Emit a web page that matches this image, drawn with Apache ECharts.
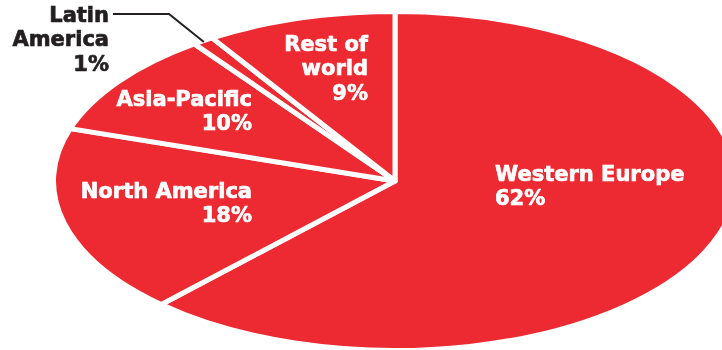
<!DOCTYPE html>
<html>
<head>
<meta charset="utf-8">
<script src="https://cdn.jsdelivr.net/npm/echarts@6/dist/echarts.min.js"></script>
<style>
  html, body { margin: 0; padding: 0; background: #ffffff; }
  #stage { position: relative; width: 722px; height: 350px; overflow: hidden; }
  #pie { position: absolute; left: 0; top: 0; height: 350px; }
  #pie, #pie div, #pie svg { overflow: visible !important; }
  #labels { position: absolute; left: 0; top: 0; width: 722px; height: 350px; }
  /* keep slice separators the same width after the horizontal stretch */
  #pie path { vector-effect: non-scaling-stroke; }
</style>
</head>
<body>
<div id="stage">
  <div id="pie"></div>
  <div id="labels"></div>
</div>
<script>
// Share of revenue by region, clockwise from twelve o'clock
const regions = ['Western Europe', 'North America', 'Asia-Pacific', 'Latin America', 'Rest of world'];
const shares = [62, 18, 10, 1, 9];
const labelNames = ['Western Europe', 'North America', 'Asia-Pacific', 'Latin\nAmerica', 'Rest of\nworld'];

const W = 722, H = 350;
const RED = '#ED2A31';
const GAP = 5;                   // white separator width (px)
const CX = 395, CY = 181;        // pie centre on the page
const RX = 339, RY = 167;        // visible half-axes of the elliptical pie
const SX = (RX + GAP / 2) / (RY + GAP / 2);   // horizontal stretch factor
const pieW = W / SX;

// ---- the pie, drawn as a circle and stretched into an ellipse ----
const pieDom = document.getElementById('pie');
pieDom.style.width = pieW + 'px';
const pie = echarts.init(pieDom, null, { renderer: 'svg', width: pieW, height: H });
pie.setOption({
  animation: false,
  series: [{
    type: 'pie',
    center: [CX / SX, CY],
    radius: RY + GAP / 2,
    startAngle: 90,
    clockwise: true,
    silent: true,
    label: { show: false },
    labelLine: { show: false },
    itemStyle: { color: RED, borderColor: '#ffffff', borderWidth: GAP },
    data: regions.map((name, i) => ({ name: name, value: shares[i] }))
  }]
});

function stretch() {
  const svg = pieDom.querySelector('svg');
  if (!svg) return;
  svg.setAttribute('viewBox', '0 0 ' + pieW + ' ' + H);
  svg.setAttribute('preserveAspectRatio', 'none');
  svg.setAttribute('width', W);
  svg.setAttribute('height', H);
  svg.style.width = W + 'px';
  svg.style.height = H + 'px';
  svg.style.overflow = 'visible';
  let el = svg.parentElement;
  while (el && el !== pieDom.parentElement) {
    el.style.overflow = 'visible';
    el = el.parentElement;
  }
}
pie.on('finished', stretch);
stretch();

// ---- labels ----
const total = shares.reduce((a, b) => a + b, 0);
const labelPos = [
  { x: 495, y: 163, align: 'left',  color: '#ffffff' },
  { x: 252, y: 180, align: 'right', color: '#ffffff' },
  { x: 252, y: 88,  align: 'right', color: '#ffffff' },
  { x: 109, y: 4,   align: 'right', color: '#231f20' },
  { x: 368, y: 33,  align: 'right', color: '#ffffff' }
];

const graphics = regions.map((name, i) => ({
  type: 'text',
  silent: true,
  style: {
    text: labelNames[i] + '\n' + shares[i] + '%',
    x: labelPos[i].x,
    y: labelPos[i].y,
    align: labelPos[i].align,
    verticalAlign: 'top',
    fill: labelPos[i].color,
    stroke: labelPos[i].color,
    lineWidth: 0.7,
    fontFamily: '"DejaVu Sans", sans-serif',
    fontWeight: 'bold',
    fontSize: 21,
    lineHeight: 24.5
  }
}));

// leader line for the thin Latin America slice, ending at the slice's outer edge
const li = regions.indexOf('Latin America');
let before = 0;
for (let i = 0; i < li; i++) before += shares[i];
const mid = (before + shares[li] / 2) / total * Math.PI * 2;
const ex = CX + (RX + 1) * Math.sin(mid);
const ey = CY - (RY + 1) * Math.cos(mid);
graphics.push({
  type: 'polyline',
  silent: true,
  shape: { points: [[113, 14], [169, 14], [ex, ey]] },
  style: { stroke: '#231f20', lineWidth: 2, fill: null }
});

const lab = echarts.init(document.getElementById('labels'), null, { renderer: 'canvas' });
lab.setOption({ animation: false, graphic: graphics });
</script>
</body>
</html>
